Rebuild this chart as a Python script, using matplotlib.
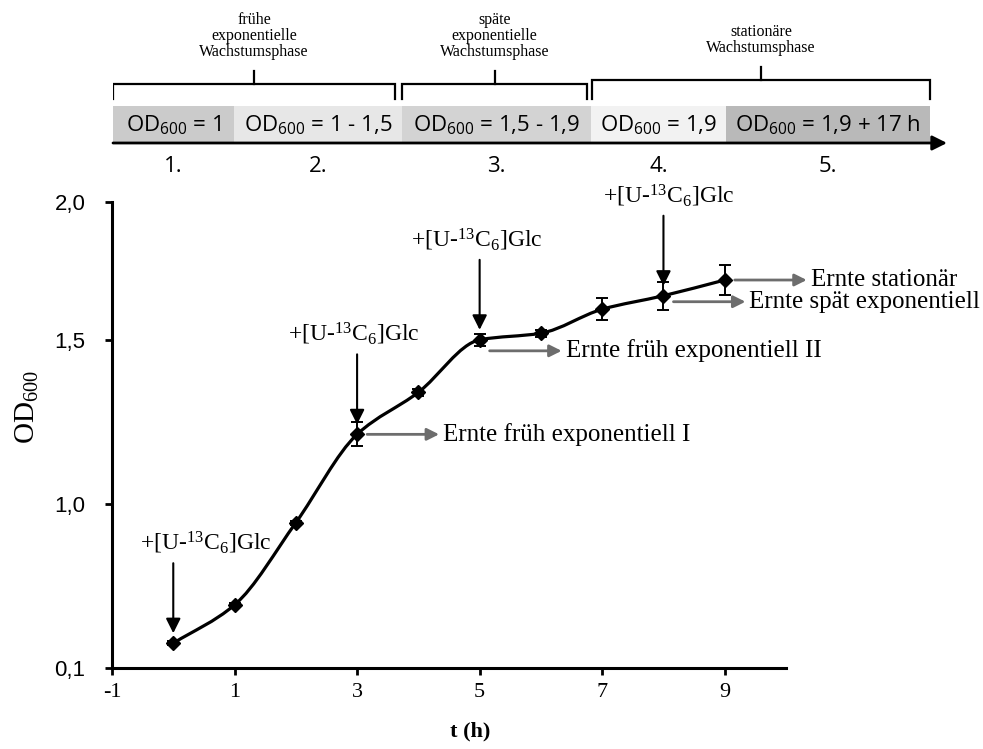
import numpy as np
import matplotlib
matplotlib.use("Agg")
import matplotlib.pyplot as plt
from matplotlib.path import Path
from matplotlib.patches import PathPatch, Rectangle
from matplotlib.transforms import offset_copy

plt.rcParams['mathtext.default'] = 'regular'

# growth curve
t_hours = [0, 1, 2, 3, 4, 5, 6, 7, 8, 9]
od600 = [0.236, 0.446, 0.897, 1.212, 1.340, 1.500, 1.524, 1.611, 1.660, 1.717]
od_err = [0.01, 0.01, 0.01, 0.037, 0.01, 0.02, 0.012, 0.04, 0.05, 0.055]

# y axis is drawn with uneven spacing between the labelled values
y_ticks = [0.1, 1.0, 1.5, 2.0]
y_tick_labels = ['0,1', '1,0', '1,5', '2,0']
y_tick_pos = [0.0, 1.0, 2.0, 2.84]
x_ticks = [-1, 1, 3, 5, 7, 9]

# glucose pulses and harvests
glc_label = '+[U-$^{13}$C$_6$]Glc'
glc_times = [0, 3, 5, 8]
glc_dx = [32, -3, -3, 5]
harvest_labels = ['Ernte früh exponentiell I', 'Ernte früh exponentiell II',
                  'Ernte spät exponentiell', 'Ernte stationär']
harvest_times = [3, 5, 8, 9]
harvest_dy = [0, -11, -6, 0]

# phase scheme on top
phase_labels = ['OD$_{600}$ = 1', 'OD$_{600}$ = 1 - 1,5', 'OD$_{600}$ = 1,5 - 1,9',
                'OD$_{600}$ = 1,9', 'OD$_{600}$ = 1,9 + 17 h']
phase_numbers = ['1.', '2.', '3.', '4.', '5.']
phase_edges = [0, 121, 289, 478, 613, 817]
phase_colors = ['#cbcbcb', '#e7e7e7', '#d3d3d3', '#f2f2f2', '#b9b9b9']
bracket_texts = ['frühe\nexponentielle\nWachstumsphase',
                 'späte\nexponentielle\nWachstumsphase',
                 'stationäre\nWachstumsphase']
bracket_spans = [(0, 282), (289, 474), (479, 817)]
bracket_y = [84, 84, 80]

SERIF = ['Liberation Serif', 'DejaVu Serif']
SANS = ['Open Sans', 'DejaVu Sans']


def _ext(knots, pos):
    k = list(knots)
    p = list(pos)
    s0 = (p[1] - p[0]) / (k[1] - k[0])
    s1 = (p[-1] - p[-2]) / (k[-1] - k[-2])
    return [k[0] - 10] + k + [k[-1] + 10], [p[0] - 10 * s0] + p + [p[-1] + 10 * s1]


kx, kp = _ext(y_ticks, y_tick_pos)


def fwd(v):
    return np.interp(v, kx, kp)


def inv(v):
    return np.interp(v, kp, kx)


def smooth_path(x, y):
    # monotone cubic (bezier) through the points, in the scaled y space
    x = np.asarray(x, float)
    ys = fwd(np.asarray(y, float))
    h = np.diff(x)
    d = np.diff(ys) / h
    m = np.zeros_like(ys)
    m[0], m[-1] = d[0], d[-1]
    for i in range(1, len(ys) - 1):
        if d[i - 1] * d[i] > 0:
            m[i] = 2 * d[i - 1] * d[i] / (d[i - 1] + d[i])
    verts = [(x[0], ys[0])]
    codes = [Path.MOVETO]
    for i in range(len(x) - 1):
        verts += [(x[i] + h[i] / 3, ys[i] + m[i] * h[i] / 3),
                  (x[i + 1] - h[i] / 3, ys[i + 1] - m[i + 1] * h[i] / 3),
                  (x[i + 1], ys[i + 1])]
        codes += [Path.CURVE4] * 3
    verts = np.array(verts)
    verts[:, 1] = inv(verts[:, 1])
    return Path(verts, codes)


fig = plt.figure(figsize=(9.83, 7.49), dpi=100)
ax = fig.add_axes([112 / 983, 81 / 749, 674 / 983, 466 / 749])
ax.set_yscale('function', functions=(fwd, inv))
ax.set_xlim(-1, 10)
ax.set_ylim(0.1, 2.0)

ax.add_patch(PathPatch(smooth_path(t_hours, od600), fill=False, lw=2.3,
                       edgecolor='black', zorder=3))
ax.errorbar(t_hours, od600, yerr=od_err, fmt='none', ecolor='black',
            elinewidth=1.4, capsize=4, capthick=1.4, zorder=4)
ax.plot(t_hours, od600, 'D', color='black', ms=7, zorder=5)

for spine in ['top', 'right']:
    ax.spines[spine].set_visible(False)
for spine in ['left', 'bottom']:
    ax.spines[spine].set_linewidth(2.2)
ax.set_xticks(x_ticks)
ax.set_xticklabels([str(v) for v in x_ticks], family=SERIF, fontsize=16)
ax.set_yticks(y_ticks)
ax.set_yticklabels(y_tick_labels, family=['Liberation Sans'], fontsize=16)
ax.tick_params(axis='both', direction='out', length=5, width=2)
ax.tick_params(axis='y', pad=14)
ax.tick_params(axis='x', pad=6)
ax.minorticks_off()
ax.set_xlabel('t (h)', family=SERIF, fontsize=16, fontweight='bold')
ax.xaxis.set_label_coords(0.531, -0.115)
ax.set_ylabel('OD$_{600}$', family=SERIF, fontsize=21)
ax.yaxis.set_label_coords(-0.105, 0.56)


def off(dx, dy):
    return offset_copy(ax.transData, fig=fig, x=dx, y=dy, units='dots')


for t, dx in zip(glc_times, glc_dx):
    y = od600[t]
    ax.annotate('', xy=(t, y), xycoords=off(0, 10), xytext=(t, y),
                textcoords=off(0, 80),
                arrowprops=dict(arrowstyle='-|>', color='black', lw=1.5,
                                mutation_scale=22, shrinkA=0, shrinkB=0))
    ax.text(t, y, glc_label, transform=off(dx, 100), ha='center', va='center',
            family=SERIF, fontsize=17)

for lab, t, dy in zip(harvest_labels, harvest_times, harvest_dy):
    y = od600[t]
    ax.annotate('', xy=(t, y), xycoords=off(82, dy), xytext=(t, y),
                textcoords=off(10, dy),
                arrowprops=dict(arrowstyle='-|>', color='#6d6d6d', lw=2,
                                mutation_scale=18, shrinkA=0, shrinkB=0))
    ax.text(t, y, lab, transform=off(86, dy), ha='left', va='center',
            family=SERIF, fontsize=18)

# phase scheme
top = fig.add_axes([113 / 983, (749 - 180) / 749, 840 / 983, 180 / 749])
top.set_xlim(0, 840)
top.set_ylim(180, 0)
top.axis('off')
for i in range(len(phase_labels)):
    x0, x1 = phase_edges[i], phase_edges[i + 1]
    top.add_patch(Rectangle((x0, 106), x1 - x0, 37, facecolor=phase_colors[i],
                            edgecolor='none'))
    top.text((x0 + x1) / 2, 125, phase_labels[i], ha='center', va='center',
             family=SANS, fontsize=16)
    top.text((x0 + x1) / 2, 167, phase_numbers[i], ha='center', va='center',
             family=SANS, fontsize=16)
top.annotate('', xy=(834, 143), xytext=(0, 143),
             arrowprops=dict(arrowstyle='-|>', color='black', lw=2,
                             mutation_scale=22, shrinkA=0, shrinkB=0))
for (b0, b1), by, txt in zip(bracket_spans, bracket_y, bracket_texts):
    bc = (b0 + b1) / 2
    top.plot([b0, b0, b1, b1], [99, by, by, 99], color='black', lw=1.6,
             solid_joinstyle='miter')
    top.plot([bc, bc], [by, by - 13], color='black', lw=1.6)
    top.text(bc, by - 24, txt, ha='center', va='bottom', family=SERIF,
             fontsize=11.5, linespacing=1.0)

fig.savefig('out.png', dpi=100)
